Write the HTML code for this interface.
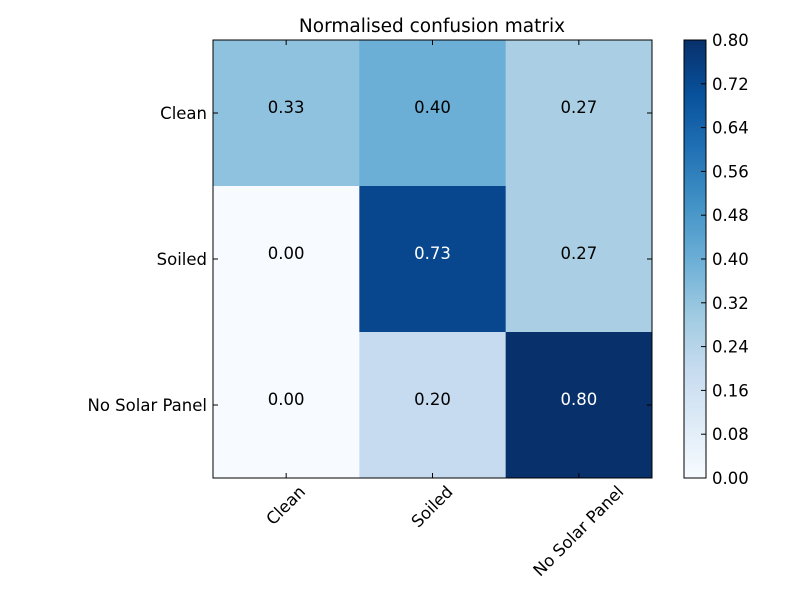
<!DOCTYPE html>
<html><head><meta charset="utf-8"><style>
html,body{margin:0;padding:0;background:#fff}
svg{display:block;font-family:"DejaVu Sans","Liberation Sans",sans-serif}
</style></head><body>
<svg id="c" width="800" height="600" xmlns="http://www.w3.org/2000/svg">
<rect width="800" height="600" fill="#fff"/>
<text x="432" y="32" font-size="18.5" text-anchor="middle">Normalised confusion matrix</text>
<defs><linearGradient id="cbg" x1="0" y1="1" x2="0" y2="0"></linearGradient></defs>
</svg>
<script>
const classes = ["Clean","Soiled","No Solar Panel"];
const values = [[0.33,0.40,0.27],[0.00,0.73,0.27],[0.00,0.20,0.80]];
const cbTicks = [0.00,0.08,0.16,0.24,0.32,0.40,0.48,0.56,0.64,0.72,0.80];
const vmin = 0, vmax = 0.80;

const NS="http://www.w3.org/2000/svg", svg=document.getElementById('c');
const stops=["#f7fbff","#deebf7","#c6dbef","#9ecae1","#6baed6","#4292c6","#2171b5","#08519c","#08306b"];
function hex(h){return [1,3,5].map(i=>parseInt(h.substr(i,2),16));}
function cmap(v){let t=Math.max(0,Math.min(1,(v-vmin)/(vmax-vmin)))*(stops.length-1);
 let i=Math.min(Math.floor(t),stops.length-2),f=t-i,a=hex(stops[i]),b=hex(stops[i+1]);
 return "rgb("+a.map((x,k)=>Math.round(x+(b[k]-x)*f)).join(",")+")";}
function el(tag,attrs){const e=document.createElementNS(NS,tag);for(const k in attrs)e.setAttribute(k,attrs[k]);svg.appendChild(e);return e;}
const X0=213,X1=652,Y0=40,Y1=478,n=classes.length;
const cw=(X1-X0)/n,ch=(Y1-Y0)/n;
const xs=j=>X0+cw*j, ys=i=>Y0+ch*i;
const FS=16.5;
for(let i=0;i<n;i++)for(let j=0;j<n;j++){
 const r=el('rect',{x:xs(j),y:ys(i),width:cw+0.5,height:ch+0.5,fill:cmap(values[i][j])});
 
 
 const t=el('text',{x:xs(j)+cw/2,y:ys(i)+ch/2,'font-size':FS,'text-anchor':'middle',fill:values[i][j]>vmax/2?'#fff':'#000'});
 t.textContent=values[i][j].toFixed(2);
 
 
}
const fr=el('rect',{x:X0,y:Y0,width:X1-X0,height:Y1-Y0,fill:'none',stroke:'#000','stroke-width':1});


for(let k=0;k<n;k++){
 const cx=xs(k)+cw/2, cy=ys(k)+ch/2;
 el('line',{x1:cx,y1:Y1,x2:cx,y2:Y1-5,stroke:'#000'});
 el('line',{x1:cx,y1:Y0,x2:cx,y2:Y0+5,stroke:'#000'});
 el('line',{x1:X0,y1:cy,x2:X0+5,y2:cy,stroke:'#000'});
 el('line',{x1:X1,y1:cy,x2:X1-5,y2:cy,stroke:'#000'});
 const yl=el('text',{x:X0-6,y:cy+6,'font-size':FS,'text-anchor':'end'});
 yl.textContent=classes[k];
 
 
 const xl=el('text',{'font-size':FS,'text-anchor':'middle'});
 xl.textContent=classes[k];
 
 
 const w=xl.getComputedTextLength(),h=12;
 const bh=(w+h)*0.7071;
 const py=485+bh/2;
 xl.setAttribute('x',cx);xl.setAttribute('y',py+5);
 xl.setAttribute('transform','rotate(-45 '+cx+' '+py+')');
}
const CX0=684,CX1=706;
const g=document.getElementById('cbg');
stops.forEach((s,i)=>{const st=document.createElementNS(NS,'stop');st.setAttribute('offset',i/(stops.length-1));st.setAttribute('stop-color',s);g.appendChild(st);});
const cb=el('rect',{x:CX0,y:Y0,width:CX1-CX0,height:Y1-Y0,fill:'url(#cbg)',stroke:'#000'});


const cy2=v=>Y1-(v-vmin)/(vmax-vmin)*(Y1-Y0);
cbTicks.forEach(v=>{
 const y=cy2(v);
 el('line',{x1:CX1,y1:y,x2:CX1-5,y2:y,stroke:'#000'});
 const t=el('text',{x:CX1+6,y:y+6,'font-size':FS});
 t.textContent=v.toFixed(2);
 
 
});
</script>
</body></html>
